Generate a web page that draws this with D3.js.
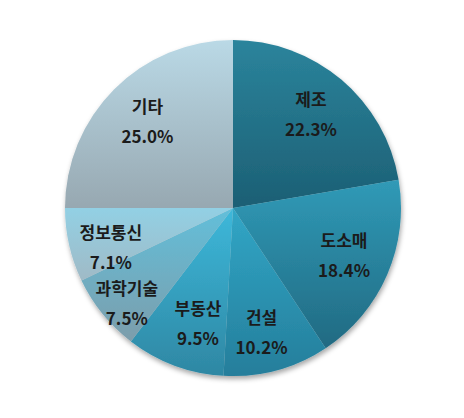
<!DOCTYPE html>
<html>
<head>
<meta charset="utf-8">
<script src="https://cdn.jsdelivr.net/npm/d3@7"></script>
<style>
  body { margin: 0; background: #fff; }
  svg { display: block; }
  text { font-family: "Noto Sans CJK KR", "Noto Sans", sans-serif; font-weight: 700; fill: #1b1b1b; }
</style>
</head>
<body>
<div id="chart"></div>
<script>
const width = 464, height = 418;

const categories = ["제조", "도소매", "건설", "부동산", "과학기술", "정보통신", "기타"];
const shares = [22.3, 18.4, 10.2, 9.5, 7.5, 7.1, 25.0];

// top / bottom colour of each slice gradient
const topColors = ["#2b849c", "#309ab7", "#31a6c6", "#3db8da", "#62bfda", "#92d0e4", "#bad9e6"];
const bottomColors = ["#1c5f74", "#216a82", "#257e9b", "#2e87a3", "#7c9dab", "#a0bac6", "#97a8b1"];

const cx = 233, cy = 208, r = 168;

const svg = d3.select("#chart")
  .append("svg")
  .attr("width", width)
  .attr("height", height);

const defs = svg.append("defs");

const shadow = defs.append("filter")
  .attr("id", "shadow")
  .attr("x", "-10%").attr("y", "-10%")
  .attr("width", "120%").attr("height", "125%");
shadow.append("feDropShadow")
  .attr("dx", 1).attr("dy", 3)
  .attr("stdDeviation", 2.5)
  .attr("flood-color", "#000")
  .attr("flood-opacity", 0.35);

categories.forEach((c, i) => {
  const g = defs.append("linearGradient")
    .attr("id", "grad" + i)
    .attr("x1", 0).attr("y1", 0).attr("x2", 0).attr("y2", 1);
  g.append("stop").attr("offset", "0%").attr("stop-color", topColors[i]);
  g.append("stop").attr("offset", "100%").attr("stop-color", bottomColors[i]);
});

const data = categories.map((c, i) => ({ name: c, value: shares[i], i }));

const pie = d3.pie()
  .sort(null)
  .value((d) => d.value);

const arcs = pie(data);

const arc = d3.arc().innerRadius(0).outerRadius(r);

const chartG = svg.append("g")
  .attr("transform", `translate(${cx}, ${cy})`);

chartG.append("g")
  .attr("filter", "url(#shadow)")
  .selectAll("path")
  .data(arcs)
  .join("path")
  .attr("d", arc)
  .attr("fill", (d) => `url(#grad${d.data.i})`);

// small slices get their labels nudged a bit
const labelR = (d) => {
  if (d.data.name === "과학기술") return r * 0.86;
  if (d.data.name === "정보통신") return r * 0.77;
  return r * 0.72;
};
const nudge = {
  "정보통신": [4, 11],
  "과학기술": [6, 5],
  "부동산": [7, 3],
  "건설": [-3, 8]
};

const labels = chartG.selectAll("g.label")
  .data(arcs)
  .join("g")
  .attr("class", "label")
  .attr("transform", (d) => {
    const lr = labelR(d);
    const [x, y] = d3.arc().innerRadius(lr).outerRadius(lr).centroid(d);
    const [nx, ny] = nudge[d.data.name] || [0, 0];
    return `translate(${x + nx}, ${y + ny})`;
  });

labels.append("text")
  .attr("text-anchor", "middle")
  .attr("y", -15)
  .attr("dy", "0.35em")
  .style("font-size", "17px")
  .text((d) => d.data.name);

labels.append("text")
  .attr("text-anchor", "middle")
  .attr("y", 15)
  .attr("dy", "0.35em")
  .style("font-size", "17px")
  .text((d) => d.data.value.toFixed(1) + "%");
</script>
</body>
</html>
